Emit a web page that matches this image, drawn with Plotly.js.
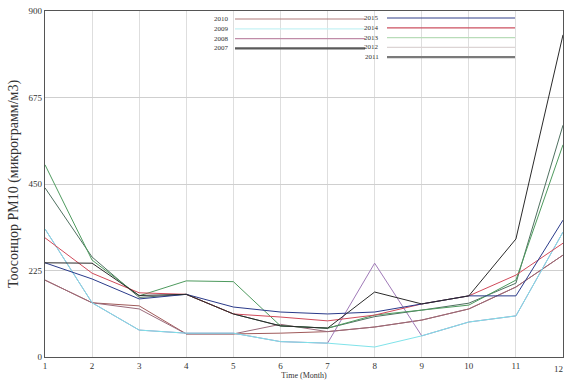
<!DOCTYPE html>
<html><head><meta charset="utf-8">
<script src="https://cdn.plot.ly/plotly-3.0.1.min.js"></script>
<style>html,body{margin:0;padding:0;background:#fff}#c{width:566px;height:383px}</style>
</head><body><div id="c"></div>
<script>
var months = [1,2,3,4,5,6,7,8,9,10,11,12];
var years = ["2010","2009","2008","2007","2015","2014","2013","2012","2011"];
var colors = {"2010":"#a05a5a","2009":"#7fe3ea","2008":"#9a6a7a","2007":"#4f7060","2015":"#2a3a8a","2014":"#d04a5a","2013":"#4e9a5e","2012":"#a07ab8","2011":"#2a2a2a"};
var legendColors = {"2010":"#b07a7a","2009":"#c6f2f4","2008":"#c08ca8","2007":"#5a5a5a","2015":"#33408a","2014":"#cc5060","2013":"#b8dcb8","2012":"#dcd4d4","2011":"#7a7a7a"};
var y2013 = [500,252,159,198,196,81,75,109,122,135,200,552];
var y2007 = [440,260,155,163,112,81,75,105,122,140,192,603];
var y2011 = [245,244,160,163,112,81,75,169,138,159,307,838];
var y2009 = [333,141,70,62,62,40,36,26,55,91,107,325];
var y2014 = [310,218,167,163,112,104,94,109,138,159,213,296];
var y2015 = [245,203,151,163,130,117,112,117,138,159,159,356];
var y2008 = [200,141,125,60,60,85,66,78,96,125,182,265];
var y2012 = [333,141,70,62,62,40,36,244,55,91,107,325];
var y2010 = [200,141,133,60,60,62,66,78,96,125,182,265];
var seriesData = {"2013":y2013,"2007":y2007,"2011":y2011,"2009":y2009,"2014":y2014,"2015":y2015,"2008":y2008,"2012":y2012,"2010":y2010};
var drawOrder = ["2010","2008","2012","2009","2007","2013","2014","2015","2011"];
var yTicks = [0,225,450,675,900];
var FONT = "Liberation Serif, Times New Roman, Times, serif";

var traces = drawOrder.map(function(yr){
  return {x: months, y: seriesData[yr], type:"scatter", mode:"lines", name: yr,
    line:{color: colors[yr], width:1}, showlegend:false, hoverinfo:"skip"};
});

var shapes = [], annotations = [];
var col1 = ["2010","2009","2008","2007"], col2 = ["2015","2014","2013","2012","2011"];
var plotL = 45, plotT = 11, plotW = 518, plotH = 346;
function px2x(px){return (px-plotL)/plotW;}
function py2y(py){return 1-(py-plotT)/plotH;}
function addCol(list, textX, lx0, lx1, y0, dy){
  list.forEach(function(yr,i){
    var py = y0 + i*dy;
    var w = (yr==="2007"||yr==="2011")?2.2:1.2;
    shapes.push({type:"line", xref:"paper", yref:"paper", x0:px2x(lx0), x1:px2x(lx1), y0:py2y(py), y1:py2y(py), line:{color:legendColors[yr], width:w}});
    annotations.push({xref:"paper", yref:"paper", x:px2x(textX), y:py2y(py), text:yr, showarrow:false, xanchor:"right", yanchor:"middle", font:{family:FONT, size:7, color:"#333"}});
  });
}
addCol(col1, 231, 235, 365, 19, 9.8);
addCol(col2, 381, 387, 515, 18, 9.8);

var layout = {
  width:566, height:383,
  margin:{l:45, r:3, t:11, b:26},
  paper_bgcolor:"#fff", plot_bgcolor:"#fff",
  font:{family:FONT, size:9, color:"#333"},
  xaxis:{range:[1,12], tickvals:months.slice(0,11), ticktext:months.slice(0,11).map(String), showgrid:true, gridcolor:"#dedede", gridwidth:1,
    zeroline:false, showline:true, linecolor:"#555", linewidth:1.2, mirror:true, ticks:"", tickfont:{size:9, family:FONT},
    title:{text:"Time (Month)", font:{size:8, family:FONT, color:"#333"}, standoff:2}},
  yaxis:{range:[0,900], tickvals:yTicks, ticktext:yTicks.map(String), showgrid:true, gridcolor:"#cfcfcf", gridwidth:1,
    zeroline:false, showline:true, linecolor:"#555", linewidth:1.2, mirror:true, ticks:"", tickfont:{size:9, family:FONT},
    title:{text:"Тоосонцор PM10 (микрограмм/м3)", font:{size:14, family:FONT, color:"#333"}, standoff:6}},
  shapes: shapes, annotations: annotations.concat([
    {xref:"x", yref:"paper", x:months[11], y:0, yshift:-5, xshift:2, text:String(months[11]), showarrow:false, xanchor:"right", yanchor:"top", font:{family:FONT, size:9, color:"#333"}}
  ])
};
Plotly.newPlot("c", traces, layout, {displayModeBar:false, staticPlot:true});
</script></body></html>
